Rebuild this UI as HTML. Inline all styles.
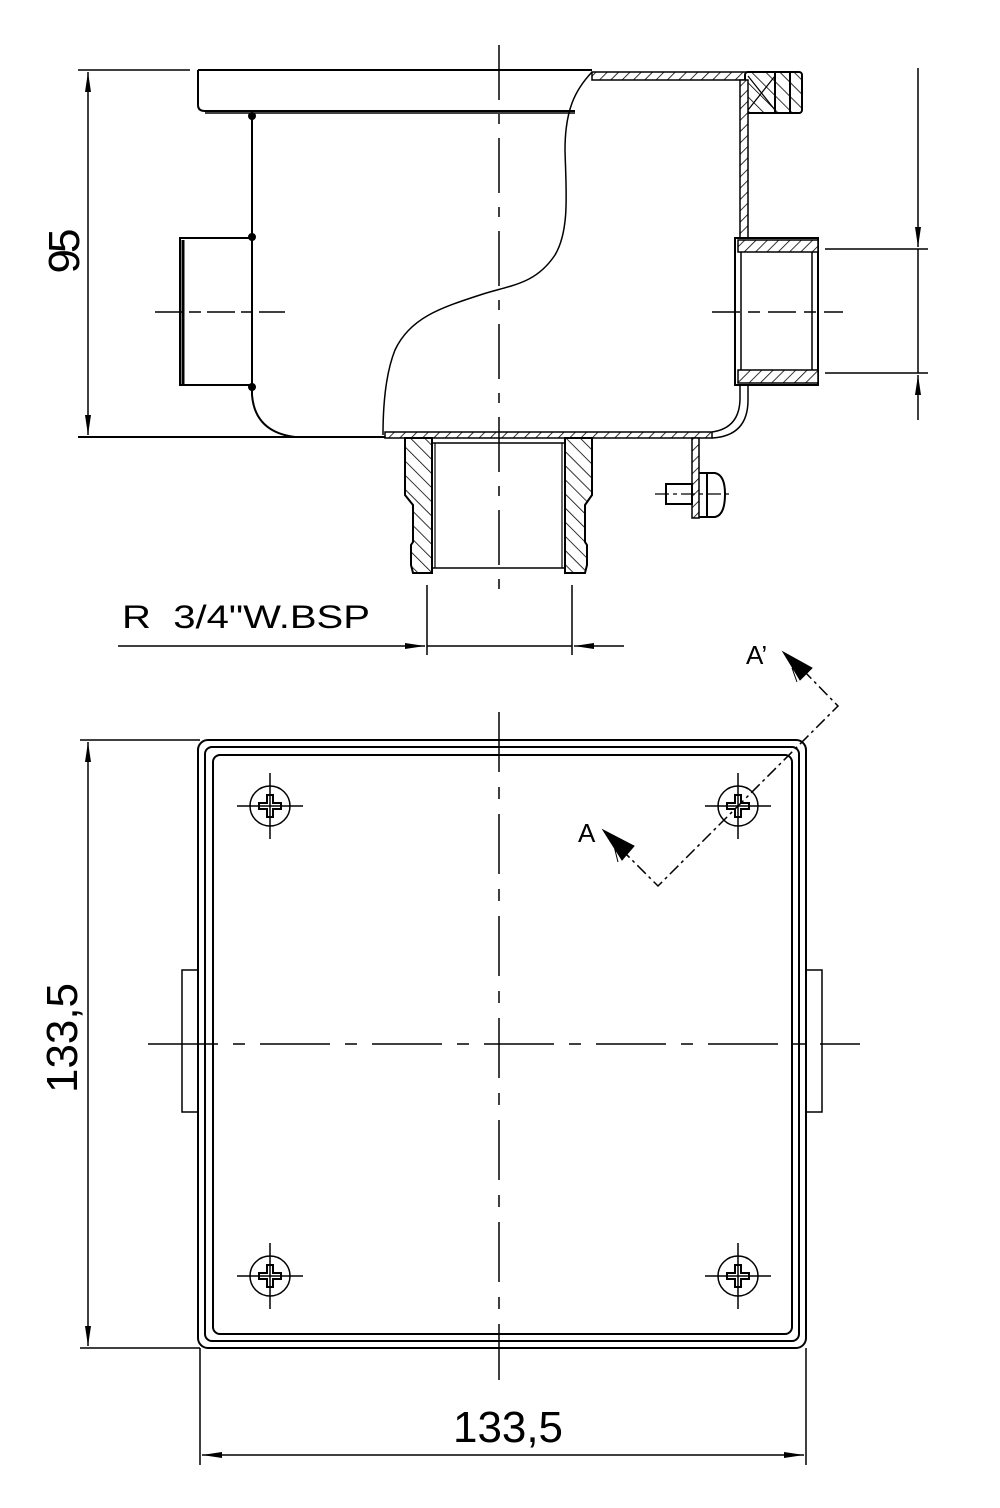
<!DOCTYPE html>
<html><head><meta charset="utf-8"><style>
html,body{margin:0;padding:0;background:#fff}
svg{display:block}
text{font-family:"Liberation Sans",sans-serif;fill:#000}
</style></head><body>
<svg width="1000" height="1508" viewBox="0 0 1000 1508" xmlns="http://www.w3.org/2000/svg">
<defs>
<pattern id="h" patternUnits="userSpaceOnUse" width="8" height="8" patternTransform="rotate(45)">
<rect width="8" height="8" fill="#fff"/><line x1="0" y1="0" x2="0" y2="8" stroke="#000" stroke-width="1.6"/>
</pattern>
<pattern id="h2" patternUnits="userSpaceOnUse" width="10" height="10" patternTransform="rotate(-45)">
<rect width="10" height="10" fill="#fff"/><line x1="0" y1="0" x2="0" y2="10" stroke="#000" stroke-width="1.6"/>
</pattern>
<marker id="ar" viewBox="0 0 20 6" refX="20" refY="3" markerWidth="20" markerHeight="6" markerUnits="userSpaceOnUse" orient="auto">
<path d="M0,0 L20,3 L0,6 z" fill="#000"/></marker>
</defs>
<g fill="none" stroke="#000" stroke-width="2">
<line x1="78" y1="70" x2="190" y2="70" stroke-width="1.5"/>
<line x1="78" y1="437" x2="390" y2="437" stroke-width="2"/>
<line x1="88" y1="150" x2="88" y2="72" stroke-width="1.5" marker-end="url(#ar)"/>
<line x1="88" y1="350" x2="88" y2="435" stroke-width="1.5" marker-end="url(#ar)"/>
<line x1="88" y1="150" x2="88" y2="350" stroke-width="1.5"/>

<path d="M198,70 L592,70 M198,70 L198,105 Q198,111 205,111 L575,111" />
<line x1="205" y1="113" x2="575" y2="113" stroke-width="1.5"/>
<path d="M252,113 L252,240 M252,385 L252,395 Q255,432 295,437"/>
<rect x="180" y="238" width="72" height="147" stroke-width="2"/>
<line x1="183" y1="240" x2="183" y2="384" stroke-width="3"/>
<line x1="155" y1="312" x2="285" y2="312" stroke-width="1.5" stroke-dasharray="28,6,12,6"/>
<circle cx="252" cy="116" r="3" fill="#000"/>
<circle cx="252" cy="237" r="3" fill="#000"/>
<circle cx="252" cy="387" r="3" fill="#000"/>
<path d="M592,72 C575,90 565,110 565,150 C566,190 570,230 555,255 C535,285 510,285 480,295 C440,308 410,318 395,350 C385,375 383,410 383,435" stroke-width="1.5"/>
<rect x="592" y="72" width="155" height="8" fill="url(#h)" stroke-width="1.5"/>
<rect x="745" y="72" width="57" height="41" rx="3" fill="url(#h2)" stroke-width="2"/>
<path d="M748,76 L775,110 M775,76 L748,110" stroke-width="1.2"/>
<line x1="775" y1="72" x2="775" y2="113"/>
<line x1="790" y1="72" x2="790" y2="113"/>
<rect x="740" y="80" width="8" height="158" fill="url(#h)" stroke-width="1.5"/>
<rect x="735" y="238" width="83" height="147" stroke-width="2"/>
<rect x="738" y="240" width="80" height="12" fill="url(#h)" stroke-width="1.5"/>
<rect x="738" y="370" width="80" height="13" fill="url(#h)" stroke-width="1.5"/>
<line x1="741" y1="252" x2="741" y2="370" stroke-width="1.5"/>
<line x1="812" y1="252" x2="812" y2="370" stroke-width="1.5"/>
<line x1="712" y1="312" x2="843" y2="312" stroke-width="1.5" stroke-dasharray="28,8,12,8"/>
<path d="M740,385 L740,398 Q740,428 712,432 M748,385 L748,400 Q748,436 712,438" stroke-width="1.5"/>
<rect x="385" y="432" width="327" height="6" fill="url(#h)" stroke-width="1.5"/>
<line x1="825" y1="249" x2="928" y2="249" stroke-width="1.5"/>
<line x1="825" y1="373" x2="928" y2="373" stroke-width="1.5"/>
<line x1="918" y1="68" x2="918" y2="247" stroke-width="1.5" marker-end="url(#ar)"/>
<line x1="918" y1="420" x2="918" y2="375" stroke-width="1.5" marker-end="url(#ar)"/>
<line x1="918" y1="249" x2="918" y2="373" stroke-width="1.5"/>
<path d="M405,438 L432,438 L432,573 L413,573 L411,565 L411,545 L413,542 L413,505 L405,495 Z" fill="url(#h2)" stroke-width="2"/>
<path d="M592,438 L565,438 L565,573 L585,573 L587,565 L587,545 L585,542 L585,505 L592,495 Z" fill="url(#h2)" stroke-width="2"/>
<line x1="432" y1="443" x2="565" y2="443" stroke-width="1.5"/>
<line x1="432" y1="568" x2="565" y2="568" stroke-width="1.5"/>
<line x1="435" y1="443" x2="435" y2="568" stroke-width="1.2"/>
<line x1="562" y1="443" x2="562" y2="568" stroke-width="1.2"/>
<rect x="692" y="438" width="7" height="80" fill="url(#h)" stroke-width="1.5"/>
<rect x="666" y="484" width="26" height="20" stroke-width="2"/>
<path d="M699,473 L715,473 Q725,475 725,494 Q725,515 715,517 L699,517" stroke-width="2"/>
<line x1="707" y1="473" x2="707" y2="517" stroke-width="2"/>
<line x1="655" y1="494" x2="730" y2="494" stroke-width="1.2" stroke-dasharray="14,4,4,4"/>
<line x1="499" y1="45" x2="499" y2="600" stroke-width="1.5" stroke-dasharray="55,14,10,14"/>
<line x1="427" y1="585" x2="427" y2="655" stroke-width="1.5"/>
<line x1="572" y1="585" x2="572" y2="655" stroke-width="1.5"/>
<line x1="118" y1="646" x2="425" y2="646" stroke-width="1.5" marker-end="url(#ar)"/>
<line x1="624" y1="646" x2="574" y2="646" stroke-width="1.5" marker-end="url(#ar)"/>
<line x1="427" y1="646" x2="572" y2="646" stroke-width="1.5"/>

<rect x="198" y="740" width="608" height="608" rx="10" stroke-width="2"/>
<rect x="205" y="747" width="594" height="594" rx="7" stroke-width="2"/>
<rect x="213" y="755" width="579" height="579" rx="7" stroke-width="2"/>
<rect x="182" y="970" width="16" height="142" stroke-width="1.5"/>
<rect x="806" y="970" width="16" height="142" stroke-width="1.5"/>
<line x1="148" y1="1044" x2="860" y2="1044" stroke-width="1.5" stroke-dasharray="70,15,12,15"/>
<line x1="499" y1="712" x2="499" y2="1380" stroke-width="1.5" stroke-dasharray="60,15,12,15"/>
<g stroke-width="1.5">
<g transform="translate(270,806)"><circle r="20"/><line x1="-33" x2="33"/><line y1="-33" y2="33"/><path d="M-3,-11 h6 v8 h8 v6 h-8 v8 h-6 v-8 h-8 v-6 h8 z" stroke-width="2"/></g>
<g transform="translate(738,806)"><circle r="20"/><line x1="-33" x2="33"/><line y1="-33" y2="33"/><path d="M-3,-11 h6 v8 h8 v6 h-8 v8 h-6 v-8 h-8 v-6 h8 z" stroke-width="2"/></g>
<g transform="translate(270,1276)"><circle r="20"/><line x1="-33" x2="33"/><line y1="-33" y2="33"/><path d="M-3,-11 h6 v8 h8 v6 h-8 v8 h-6 v-8 h-8 v-6 h8 z" stroke-width="2"/></g>
<g transform="translate(738,1276)"><circle r="20"/><line x1="-33" x2="33"/><line y1="-33" y2="33"/><path d="M-3,-11 h6 v8 h8 v6 h-8 v8 h-6 v-8 h-8 v-6 h8 z" stroke-width="2"/></g>
</g>
<path d="M803,670 L838,706 L658,886 L620,848" stroke-width="1.5" stroke-dasharray="12,4,3,4"/>
<path d="M783,652 L812,668 L800,680 Z M792,668 L797,682" fill="#000" stroke-width="1"/>
<path d="M603,830 L634,846 L622,860 Z M614,846 L618,862" fill="#000" stroke-width="1"/>
<line x1="80" y1="740" x2="200" y2="740" stroke-width="1.5"/>
<line x1="80" y1="1348" x2="200" y2="1348" stroke-width="1.5"/>
<line x1="88" y1="900" x2="88" y2="742" stroke-width="1.5" marker-end="url(#ar)"/>
<line x1="88" y1="1200" x2="88" y2="1346" stroke-width="1.5" marker-end="url(#ar)"/>
<line x1="88" y1="900" x2="88" y2="1200" stroke-width="1.5"/>
<line x1="200" y1="1348" x2="200" y2="1465" stroke-width="1.5"/>
<line x1="806" y1="1348" x2="806" y2="1465" stroke-width="1.5"/>
<line x1="400" y1="1455" x2="202" y2="1455" stroke-width="1.5" marker-end="url(#ar)"/>
<line x1="600" y1="1455" x2="804" y2="1455" stroke-width="1.5" marker-end="url(#ar)"/>
<line x1="400" y1="1455" x2="600" y2="1455" stroke-width="1.5"/>
</g>
<text x="0" y="0" font-size="44" transform="translate(79,251) rotate(-90)" text-anchor="middle" textLength="45">95</text>
<text x="0" y="0" font-size="44" transform="translate(77,1038) rotate(-90)" text-anchor="middle" textLength="110" lengthAdjust="spacingAndGlyphs">133,5</text>
<text x="508" y="1442" font-size="44" text-anchor="middle" textLength="110" lengthAdjust="spacingAndGlyphs">133,5</text>
<text x="122" y="628" font-size="32" textLength="248" lengthAdjust="spacingAndGlyphs">R&#160;&#160;3/4"W.BSP</text>
<text x="746" y="664" font-size="26">A’</text>
<text x="578" y="842" font-size="26">A</text>
</svg>
</body></html>
